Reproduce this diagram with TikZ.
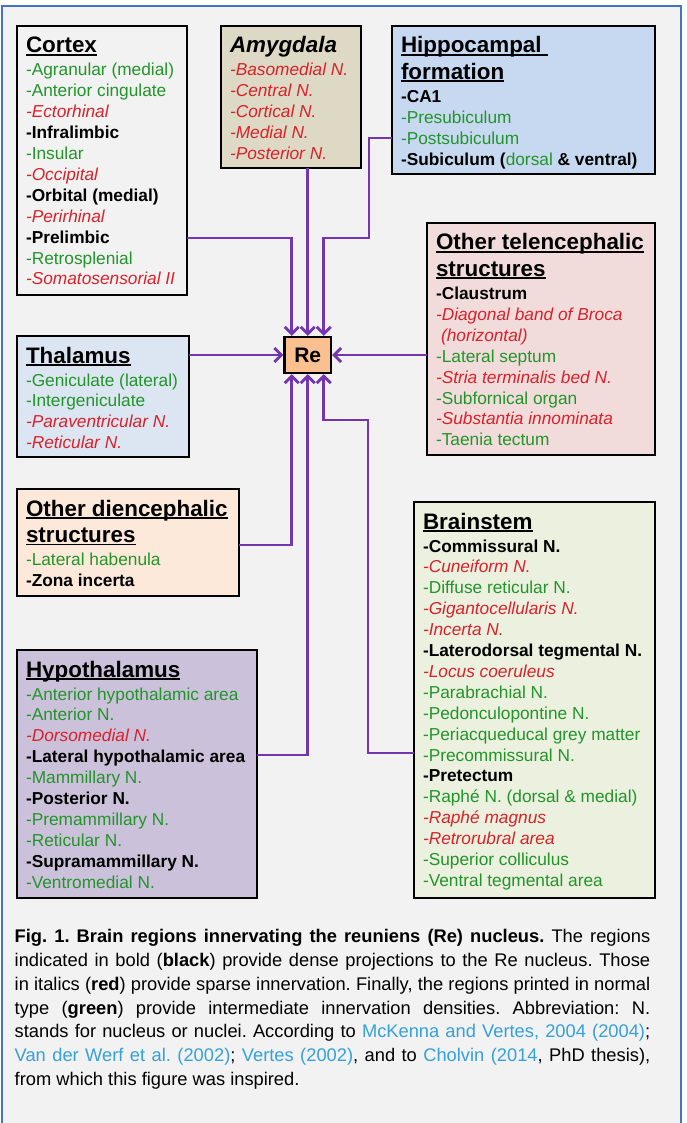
\documentclass[tikz,border=0pt]{standalone}
\usepackage{fontspec}
\setmainfont{Liberation Sans}
\usetikzlibrary{arrows.meta}
\frenchspacing

\definecolor{bgc}{HTML}{F2F2F2}
\definecolor{framec}{HTML}{4472C4}
\definecolor{arrowc}{HTML}{7436AE}
\definecolor{sparse}{HTML}{D9212B}
\definecolor{interm}{HTML}{22942A}
\definecolor{linkc}{HTML}{35A0DA}
\definecolor{amygc}{HTML}{DDD9C4}
\definecolor{hippoc}{HTML}{C6D9F1}
\definecolor{otelc}{HTML}{F2DCDB}
\definecolor{thalc}{HTML}{DCE6F2}
\definecolor{odienc}{HTML}{FDE9D9}
\definecolor{hypoc}{HTML}{CCC1DA}
\definecolor{brainc}{HTML}{EBF1DE}
\definecolor{rec}{HTML}{FAC090}

\newcommand\natsp{\spaceskip=0pt\xspaceskip=0pt\relax}
\newcommand\titlefont{\fontsize{22.4}{25}\selectfont\bfseries}
\newcommand\ttl[1]{\setbox0\hbox{\natsp\titlefont #1}\mbox{\rlap{\rule[-2.6pt]{\wd0}{1.6pt}}\box0}}
\newcommand\dens[1]{\mbox{\natsp\bfseries -#1}}
\newcommand\spars[1]{\mbox{\natsp\color{sparse}\itshape -#1}}
\newcommand\inter[1]{\mbox{\natsp\color{interm}-#1}}
\newcommand\lnk[1]{\textcolor{linkc}{#1}}
\newcommand\capline[1]{\leavevmode{\natsp\hbox to 635.5pt{#1}}}

\begin{document}
\begin{tikzpicture}[x=1pt, y=-1pt, >={Straight Barb[length=7pt,width=14pt]},
  regbox/.style={draw, line width=2.6pt, anchor=north west, inner xsep=9pt, inner ysep=0pt,
    outer sep=0pt, align=left, text height=27pt,
    font={\fontsize{17.3}{20.9}\selectfont\lineskiplimit=-50pt\lineskip=0pt}},
  conn/.style={draw=arrowc, line width=2.8pt, ->}]
\useasboundingbox (0,0) rectangle (686,1123);
\fill [white] (0,0) rectangle (686,1123);
\draw [framec, fill=bgc, line width=2pt] (1.5,6) rectangle (681,1140);

% regions
\node [regbox, fill=bgc, text width=152pt, text depth=242pt] (cortex) at (17,26) {%
  \ttl{Cortex}\\[2.1pt]
  \inter{Agranular (medial)}\\
  \inter{Anterior cingulate}\\
  \spars{Ectorhinal}\\
  \dens{Infralimbic}\\
  \inter{Insular}\\
  \spars{Occipital}\\
  \dens{Orbital (medial)}\\
  \spars{Perirhinal}\\
  \dens{Prelimbic}\\
  \inter{Retrosplenial}\\
  \spars{Somatosensorial II}};
\node [regbox, fill=amygc, text width=122pt, text depth=115pt] (amyg) at (221,26) {%
  \mbox{\titlefont\itshape Amygdala}\\[2.1pt]
  \spars{Basomedial N.}\\
  \spars{Central N.}\\
  \spars{Cortical N.}\\
  \spars{Medial N.}\\
  \spars{Posterior N.}};
\node [regbox, fill=hippoc, text width=245pt, text depth=121pt] (hippo) at (392,26) {%
  \ttl{Hippocampal\ }\\[5.6pt]
  \ttl{formation}\\[2.1pt]
  \dens{CA1}\\
  \inter{Presubiculum}\\
  \inter{Postsubiculum}\\
  \mbox{\natsp\bfseries -Subiculum ({\mdseries\color{interm}dorsal} \& ventral)}};
\node [regbox, fill=otelc, text width=210pt, text depth=205pt] (otel) at (427,223) {%
  \ttl{Other telencephalic}\\[5.6pt]
  \ttl{structures}\\[2.1pt]
  \dens{Claustrum}\\
  \spars{Diagonal band of Broca}\\
  \mbox{\color{sparse}\itshape\hspace{5pt}(horizontal)}\\
  \inter{Lateral septum}\\
  \spars{Stria terminalis bed N.}\\
  \inter{Subfornical organ}\\
  \spars{Substantia innominata}\\
  \inter{Taenia tectum}};
\node [regbox, fill=thalc, text width=154pt, text depth=94pt] (thal) at (17,336) {%
  \ttl{Thalamus}\\[2.1pt]
  \inter{Geniculate (lateral)}\\
  \inter{Intergeniculate}\\
  \spars{Paraventricular N.}\\
  \spars{Reticular N.}};
\node [regbox, fill=odienc, text width=204pt, text depth=80pt] (odien) at (17,489) {%
  \ttl{Other diencephalic}\\[5.6pt]
  \ttl{structures}\\[2.1pt]
  \inter{Lateral habenula}\\
  \dens{Zona incerta}};
\node [regbox, fill=hypoc, text width=222pt, text depth=221pt] (hypo) at (17,650) {%
  \ttl{Hypothalamus}\\[2.1pt]
  \inter{Anterior hypothalamic area}\\
  \inter{Anterior N.}\\
  \spars{Dorsomedial N.}\\
  \dens{Lateral hypothalamic area}\\
  \inter{Mammillary N.}\\
  \dens{Posterior N.}\\
  \inter{Premammillary N.}\\
  \inter{Reticular N.}\\
  \dens{Supramammillary N.}\\
  \inter{Ventromedial N.}};
\node [regbox, fill=brainc, text width=223pt, text depth=369pt] (brain) at (414,502) {%
  \ttl{Brainstem}\\[2.1pt]
  \dens{Commissural N.}\\
  \spars{Cuneiform N.}\\
  \inter{Diffuse reticular N.}\\
  \spars{Gigantocellularis N.}\\
  \spars{Incerta N.}\\
  \dens{Laterodorsal tegmental N.}\\
  \spars{Locus coeruleus}\\
  \inter{Parabrachial N.}\\
  \inter{Pedonculopontine N.}\\
  \inter{Periacqueducal grey matter}\\
  \inter{Precommissural N.}\\
  \dens{Pretectum}\\
  \inter{Raphé N. (dorsal \& medial)}\\
  \spars{Raphé magnus}\\
  \spars{Retrorubral area}\\
  \inter{Superior colliculus}\\
  \inter{Ventral tegmental area}};

% target nucleus
\node [draw, line width=2.4pt, fill=rec, minimum width=46.5pt, minimum height=36pt, inner sep=0pt,
  font=\fontsize{21}{21}\selectfont\bfseries] (re) at (307.7,355) {Re};

% projections
\coordinate (hipbend) at (369,238);
\coordinate (brbend) at (368,420);
\draw [conn] ([yshift=-77.5pt]cortex.east) -| ([xshift=-16pt]re.north);
\draw [conn] (amyg.south -| re.north) -- (re.north);
\draw [conn] ([yshift=-38pt]hippo.west) -| (hipbend) -| ([xshift=16pt]re.north);
\draw [conn] (thal.east |- re.west) -- (re.west);
\draw [conn] (otel.west |- re.east) -- (re.east);
\draw [conn] ([yshift=-2.5pt]odien.east) -| ([xshift=-16pt]re.south);
\draw [conn] ([yshift=19pt]hypo.east) -| (re.south);
\draw [conn] ([yshift=-53pt]brain.west) -| (brbend) -| ([xshift=16pt]re.south);

% caption
\node [anchor=base west, text width=635.5pt, align=left, inner sep=0pt,
  font={\fontsize{18.3}{23.8}\selectfont\lineskiplimit=-50pt}] (caption) at (14.5,942.7) {%
  \capline{\textbf{Fig. 1. Brain regions innervating the reuniens (Re) nucleus.} The regions}\\
  \capline{indicated in bold (\textbf{black}) provide dense projections to the Re nucleus. Those}\\
  \capline{in italics (\textbf{red}) provide sparse innervation. Finally, the regions printed in normal}\\
  \capline{type (\textbf{green}) provide intermediate innervation densities. Abbreviation: N.}\\
  \capline{stands for nucleus or nuclei. According to \lnk{McKenna and Vertes, 2004 (2004)};}\\
  \capline{\lnk{Van der Werf et al. (2002)}; \lnk{Vertes (2002)}, and to \lnk{Cholvin (2014}, PhD thesis),}\\
  {\natsp from which this figure was inspired.}};
\end{tikzpicture}
\end{document}
